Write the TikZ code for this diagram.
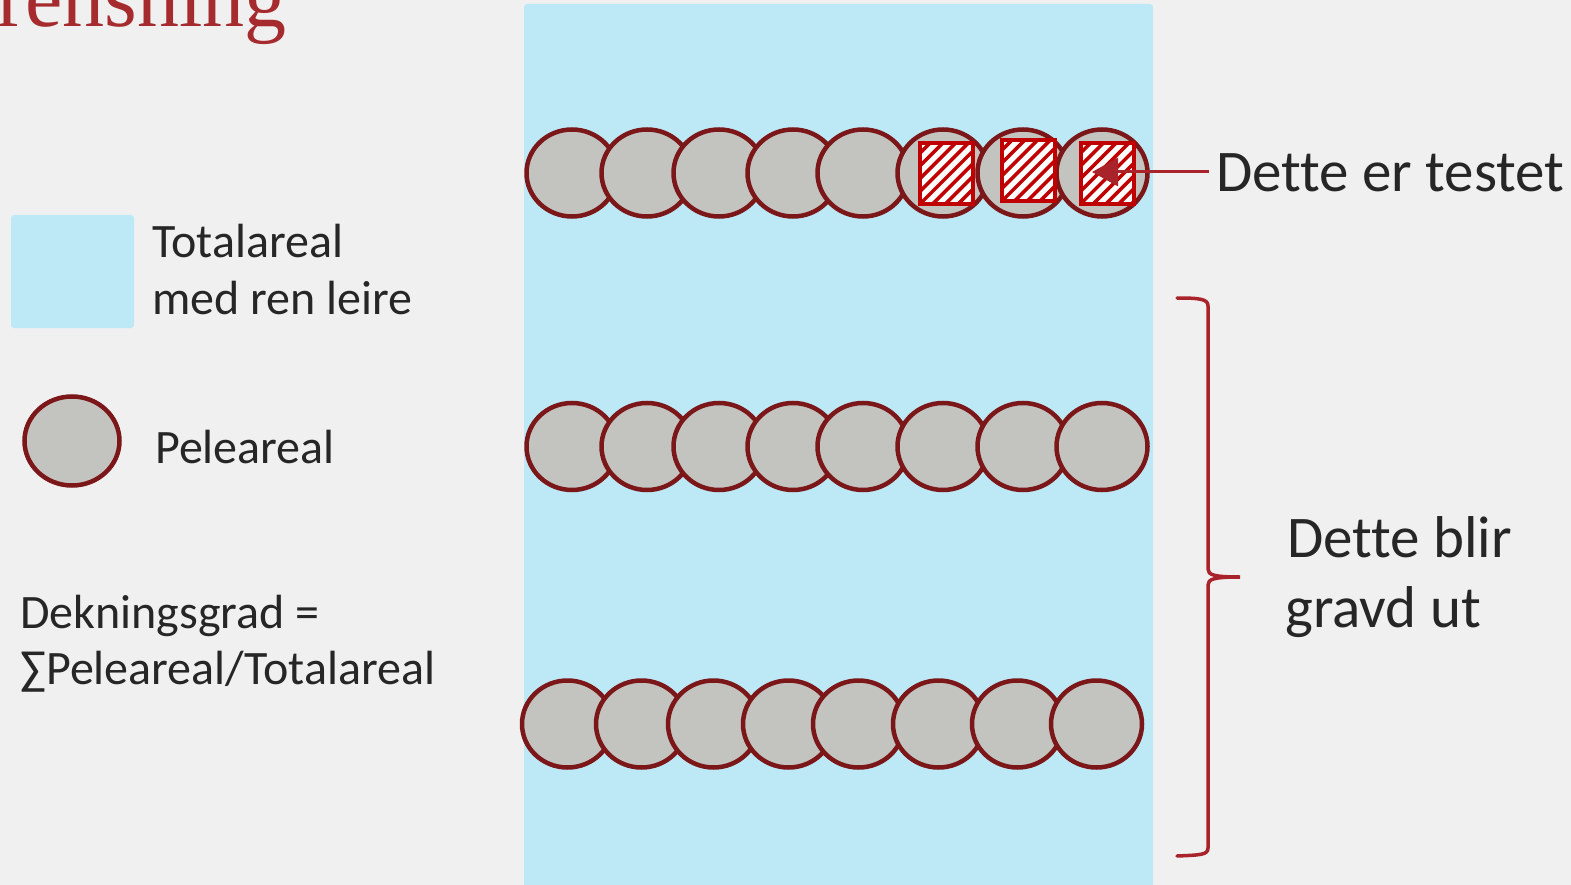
\documentclass[tikz,border=0pt]{standalone}
\usepackage{fontspec}
\setmainfont{Carlito}[RawFeature={-liga;-clig;-calt;-dlig}]
\newfontfamily\titlefont{Liberation Serif}
\usetikzlibrary{shapes.geometric,arrows.meta}
\definecolor{bgc}{HTML}{F0F0F0}
\definecolor{areablue}{HTML}{BDE9F6}
\definecolor{pilefill}{HTML}{C3C3BF}
\definecolor{piledraw}{HTML}{7B1719}
\definecolor{hatchred}{HTML}{C00000}
\definecolor{markred}{HTML}{A8242A}
\definecolor{titlered}{HTML}{A62B2E}
\definecolor{txt}{HTML}{262626}
\tikzset{
  pile/.style={ellipse, draw=piledraw, fill=pilefill, line width=4.5pt,
    minimum width=91pt, minimum height=87pt, inner sep=0pt},
  testbox/.style={rectangle, draw=hatchred, fill=white, line width=4pt,
    minimum width=53pt, minimum height=61pt, inner sep=0pt,
    path picture={\foreach \i in {-10,...,10}{
      \draw[hatchred, line width=3.5pt]
        ([xshift=\i*12.7pt]path picture bounding box.south west) -- ++(90pt,90pt);}}},
  lbl/.style={inner sep=0pt, text=txt, anchor=base west},
}
\begin{document}
\begin{tikzpicture}[x=1pt,y=-1pt]
\useasboundingbox (0,0) rectangle (1571,885);
\fill[bgc] (0,0) rectangle (1571,885);
\begin{scope}
\clip (0,0) rectangle (1571,885);
\node[anchor=base east, inner sep=0pt, font=\titlefont\fontsize{84}{84}\selectfont, text=titlered] (title) at (287,27) {rensning};
\fill[areablue, rounded corners=3pt] (524,4) rectangle (1153,900);
\end{scope}
% legend
\node[fill=areablue, rounded corners=3pt, minimum width=123pt, minimum height=113pt, inner sep=0pt] (legbox) at (72.5,271.5) {};
\node[lbl, font=\fontsize{48}{57}\selectfont] (legtot1) at (152,258) {Totalareal};
\node[lbl, font=\fontsize{48}{57}\selectfont] (legtot2) at (152,315) {med ren leire};
\node[pile, minimum width=95pt, minimum height=89pt] (legpile) at (72,441) {};
\node[lbl, font=\fontsize{48}{57}\selectfont] (legpel) at (155,463) {Peleareal};
\node[lbl, font=\fontsize{48}{54}\selectfont] (dek1) at (20,628) {Dekningsgrad =};
\node[lbl, font=\fontsize{48}{54}\selectfont] (dek2) at (20,684) {∑Peleareal/Totalareal};
% rows of piles
\foreach \x [count=\i] in {572,647,719,793,863,943,1023,1102}{
  \node[pile] (a\i) at (\x,173) {};
}
\foreach \x [count=\i] in {572,647,719,793,863,943,1023,1102}{
  \node[pile] (b\i) at (\x,446.5) {};
}
\foreach \x [count=\i] in {567.5,641.5,713.5,788.5,858.5,938.5,1017.5,1096.5}{
  \node[pile] (c\i) at (\x,724) {};
}
% tested squares
\node[testbox] (t1) at (946.5,173.5) {};
\node[testbox] (t2) at (1028,171) {};
\node[testbox] (t3) at (1107,173.5) {};
% labels right
\node[lbl, font=\fontsize{59}{66}\selectfont] (testtxt) at (1216,192) {Dette er testet};
\coordinate (arrstart) at (1209,172);
\coordinate (arrtip) at (1092,172);
\draw[markred, line width=3pt, -{Triangle[length=26pt,width=28pt]}] (arrstart) -- (arrtip);
\node[lbl, font=\fontsize{59}{70}\selectfont] (dig1) at (1287,557) {Dette blir};
\node[lbl, font=\fontsize{59}{70}\selectfont] (dig2) at (1285,627) {gravd ut};
% brace
\draw[markred, line width=3.5pt, line cap=round]
  (1177,298) .. controls (1200,298) and (1208,299) .. (1208,306)
  -- (1208,569) .. controls (1208,575) and (1214,577) .. (1240,577)
  .. controls (1214,577) and (1208,579) .. (1208,585)
  -- (1208,848) .. controls (1208,855) and (1200,855) .. (1177,856);
\end{tikzpicture}
\end{document}
